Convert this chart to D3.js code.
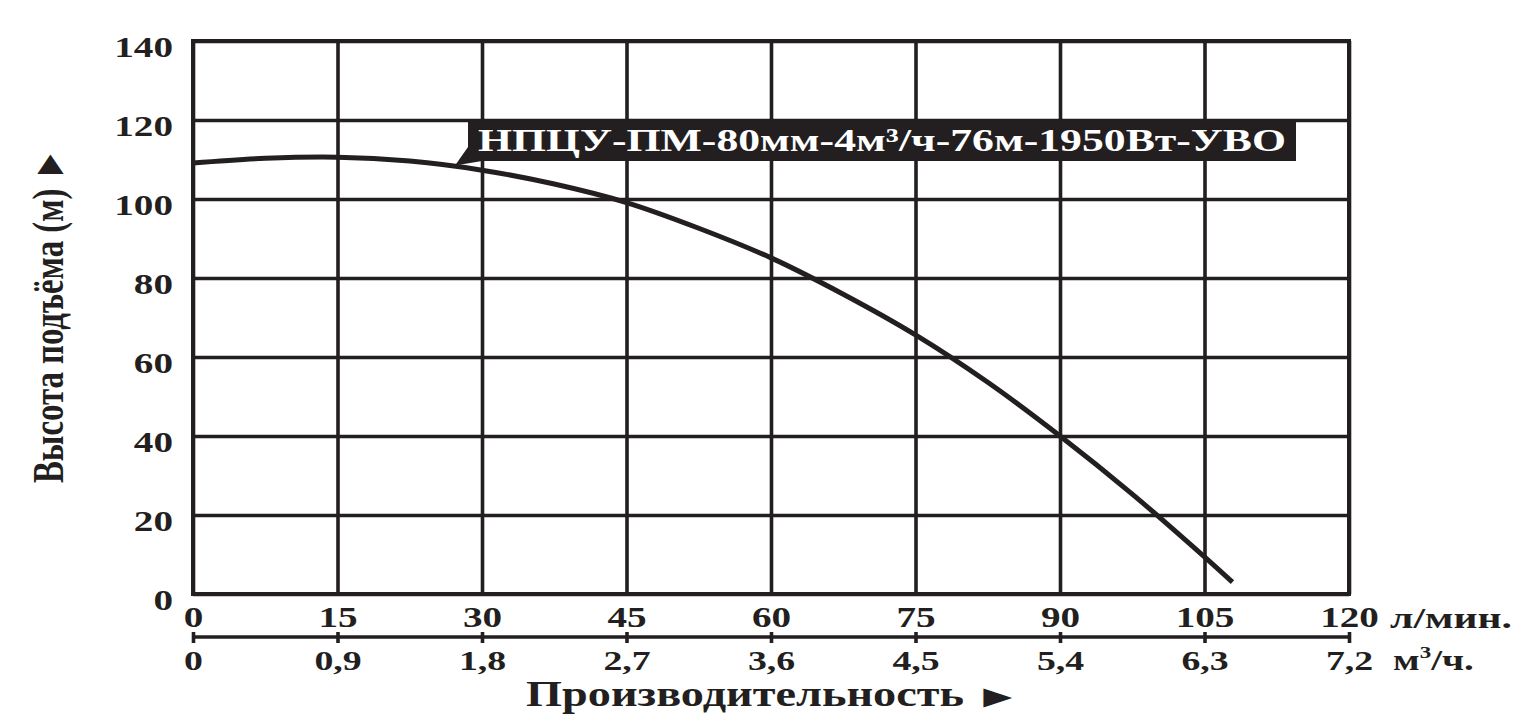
<!DOCTYPE html>
<html><head><meta charset="utf-8">
<script src="https://cdn.jsdelivr.net/npm/d3@7"></script>
<style>
html,body{margin:0;padding:0;background:#fff;}
svg{display:block;}
text{font-family:"Liberation Serif","Times New Roman",serif;font-weight:bold;fill:#231f20;}
</style></head>
<body>
<svg id="chart" width="1522" height="717"></svg>
<script>
// ---- data ----
const flowTicks = [0, 15, 30, 45, 60, 75, 90, 105, 120];          // л/мин
const m3Labels  = ["0", "0,9", "1,8", "2,7", "3,6", "4,5", "5,4", "6,3", "7,2"]; // м³/ч
const headTicks = [0, 20, 40, 60, 80, 100, 120, 140];              // м
const curveFlow = [0, 7.5, 15, 22.5, 30, 37.5, 45, 52.5, 60, 67.5, 75, 82.5, 90, 97.5, 105, 107.9];
const curveHead = [109.1, 110.3, 110.6, 109.6, 107.3, 103.8, 99.1, 92.6, 85.1, 75.9, 65.6, 53.6, 40, 25.3, 9.4, 3.0];
const seriesName = "НПЦУ-ПМ-80мм-4м³/ч-76м-1950Вт-УВО";
const yTitle = "Высота подъёма (м) ►";
const xTitle = "Производительность";
const arrow = "►";
const unitFlow = "л/мин.";

// ---- layout ----
const INK = "#231f20";
const L = 193, R = 1349, T = 41, B = 594;
const svg = d3.select("#chart");
const x = d3.scaleLinear().domain([0, 120]).range([L, R]);
const y = d3.scaleLinear().domain([0, 140]).range([B, T]);

// grid
svg.append("g").attr("transform", `translate(0,${B})`)
  .call(d3.axisBottom(x).tickValues(flowTicks).tickSize(-(B - T)).tickFormat(""))
  .call(g => g.select(".domain").remove())
  .call(g => g.selectAll("line").attr("stroke", INK).attr("stroke-width", 3.6));
svg.append("g").attr("transform", `translate(${L},0)`)
  .call(d3.axisLeft(y).tickValues(headTicks).tickSize(-(R - L)).tickFormat(""))
  .call(g => g.select(".domain").remove())
  .call(g => g.selectAll("line").attr("stroke", INK).attr("stroke-width", 3.6));
svg.append("rect").attr("x", L).attr("y", T).attr("width", R - L).attr("height", B - T)
  .attr("fill", "none").attr("stroke", INK).attr("stroke-width", 4);

// y tick labels
svg.append("g").attr("transform", `translate(${L},0)`)
  .call(d3.axisLeft(y).tickValues(headTicks).tickSize(0).tickPadding(0))
  .call(g => g.select(".domain").remove())
  .call(g => g.selectAll("text")
    .attr("x", 0).attr("dy", 0).attr("y", 15)
    .attr("transform", "translate(-20,0) scale(1.35,1)")
    .attr("text-anchor", "end")
    .style("font-size", "29px").attr("fill", INK));

// x top tick labels (л/мин)
svg.append("g").attr("transform", `translate(0,${B})`)
  .call(d3.axisBottom(x).tickValues(flowTicks).tickSize(0).tickPadding(0))
  .call(g => g.select(".domain").remove())
  .call(g => g.selectAll("text")
    .attr("y", 33).attr("dy", 0)
    .attr("transform", "scale(1.35,1)")
    .attr("text-anchor", "middle")
    .style("font-size", "29px").attr("fill", INK));

// secondary axis (м³/ч)
const axY = 637;
const x2 = d3.scaleLinear().domain([0, 7.2]).range([L, R]);
const m3Values = m3Labels.map(s => +s.replace(",", "."));
svg.append("g").attr("transform", `translate(0,${axY})`)
  .call(d3.axisBottom(x2).tickValues(m3Values).tickSize(6).tickPadding(0)
    .tickFormat((d, i) => m3Labels[i]))
  .call(g => g.select(".domain").attr("d", `M${L},0H${R}`).attr("stroke", INK).attr("stroke-width", 3.6))
  .call(g => g.selectAll(".tick line").attr("y1", -5).attr("y2", 6).attr("stroke", INK).attr("stroke-width", 3.6))
  .call(g => g.selectAll(".tick text")
    .attr("y", 33).attr("dy", 0)
    .attr("transform", "scale(1.35,1)")
    .attr("text-anchor", "middle")
    .style("font-size", "28px").attr("fill", INK));

// units
svg.append("text").attr("x", 1390).attr("y", 628).attr("textLength", 122)
  .attr("lengthAdjust", "spacingAndGlyphs").style("font-size", "29px").text(unitFlow);
const u2 = svg.append("text").attr("transform", "translate(1393,670) scale(1.35,1)")
  .attr("x", 0).attr("y", 0).style("font-size", "29px");
u2.append("tspan").text("м");
u2.append("tspan").attr("dy", -12).style("font-size", "17px").text("3");
u2.append("tspan").attr("dy", 12).text("/ч.");

// axis titles
svg.append("text").attr("x", 526).attr("y", 706).attr("textLength", 438)
  .attr("lengthAdjust", "spacingAndGlyphs").style("font-size", "36px").text(xTitle);
svg.append("text").attr("transform", "translate(974,707) scale(1.6,1.05)")
  .attr("x", 0).attr("y", 0).style("font-size", "30px").text(arrow);
svg.append("text").attr("transform", "translate(63,483) rotate(-90)")
  .attr("x", 0).attr("y", 0).attr("textLength", 335)
  .attr("lengthAdjust", "spacingAndGlyphs").style("font-size", "44px").text(yTitle);

// curve
const pts = curveFlow.map((f, i) => [f, curveHead[i]]);
svg.append("path").datum(pts)
  .attr("fill", "none").attr("stroke", INK).attr("stroke-width", 5).attr("stroke-linecap", "butt")
  .attr("d", d3.line().x(d => x(d[0])).y(d => y(d[1])).curve(d3.curveCatmullRom.alpha(0.5)));

// series label box with pointer
const bx = 468, by = 121, bw = 828, bh = 40;
const tip = [x(27.2), y(108.5)];
svg.append("polygon")
  .attr("points", `${bx},${by + bh - 14} ${bx + 14},${by + bh} ${tip[0]},${tip[1]}`)
  .attr("fill", INK);
svg.append("rect").attr("x", bx).attr("y", by).attr("width", bw).attr("height", bh).attr("fill", INK);
svg.append("text").attr("x", bx + 10).attr("y", by + 30).attr("textLength", bw - 20)
  .attr("lengthAdjust", "spacingAndGlyphs").style("font-size", "32px").attr("fill", "#fff")
  .style("fill", "#fff").text(seriesName);
</script>
</body></html>
